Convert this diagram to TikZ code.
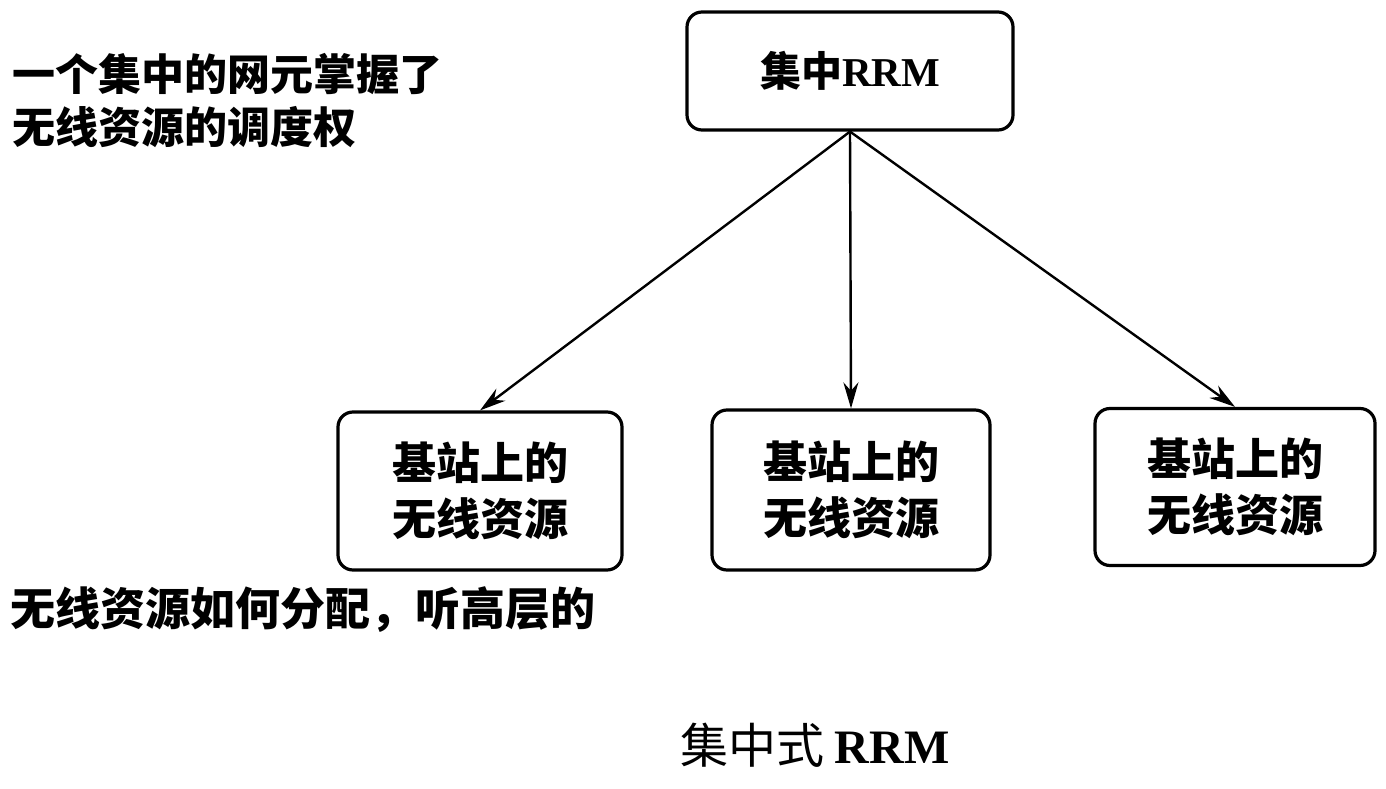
\documentclass[tikz,border=0pt]{standalone}
\usepackage{fontspec}
\newfontfamily\cjk{Noto Sans CJK SC}
\newfontfamily\serifb{Liberation Serif}
\usetikzlibrary{arrows.meta}
\tikzset{
  box/.style={draw, line width=3.2pt, rounded corners=15pt, align=center, inner sep=0pt},
  boxtext/.style={font=\cjk\bfseries\fontsize{44}{56}\selectfont},
  arr/.style={line width=2.4pt, -{Stealth[length=26pt,width=15pt]}},
  lbl/.style={anchor=west, align=left, inner sep=0pt},
}
\begin{document}
\begin{tikzpicture}[x=1pt,y=-1pt]
\useasboundingbox (0,0) rectangle (1386,789);
\node[box, minimum width=326pt, minimum height=118pt,
  font=\cjk\bfseries\fontsize{41}{46}\selectfont] (top) at (850,71)
  {集中{\serifb\bfseries RRM}};
\node[box, boxtext, minimum width=284pt, minimum height=158pt] (b1) at (480,491)
  {基站上的\\无线资源};
\node[box, boxtext, minimum width=278pt, minimum height=160pt] (b2) at (851,490)
  {基站上的\\无线资源};
\node[box, boxtext, minimum width=280pt, minimum height=157pt] (b3) at (1235,487)
  {基站上的\\无线资源};
\draw[arr] (top.south) -- (b1.north);
\draw[arr] (top.south) -- (b2.north);
\draw[arr] (top.south) -- (b3.north);
\node[lbl, font=\cjk\bfseries\fontsize{43}{53}\selectfont] (t1) at (12,101)
  {一个集中的网元掌握了\\无线资源的调度权};
\node[lbl, font=\cjk\bfseries\fontsize{45}{50}\selectfont] (t2) at (10,610)
  {无线资源如何分配，听高层的};
\node[font=\cjk\fontsize{48}{54}\selectfont] (cap) at (815,745)
  {集中式\hspace{10pt}{\serifb\bfseries RRM}};
\end{tikzpicture}
\end{document}
